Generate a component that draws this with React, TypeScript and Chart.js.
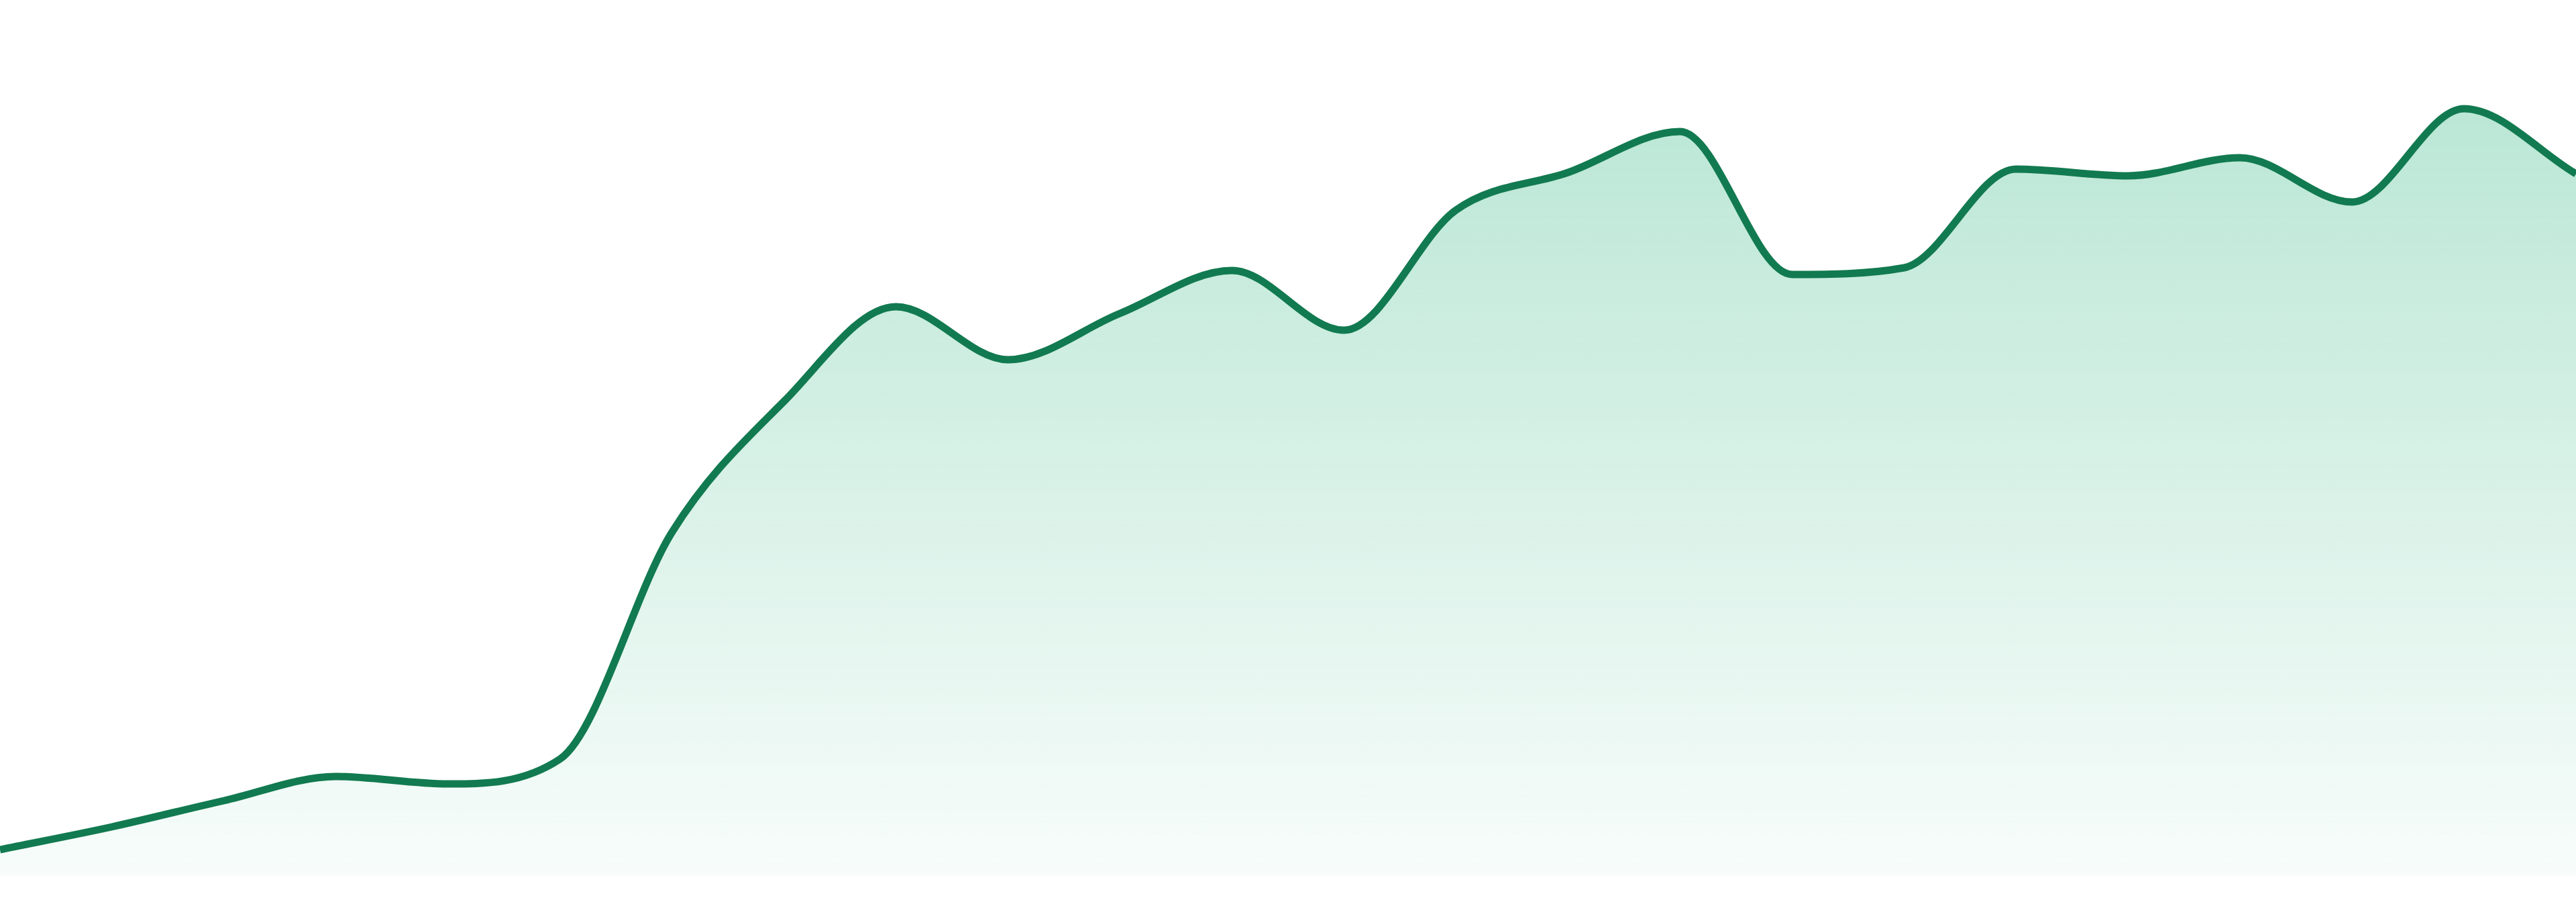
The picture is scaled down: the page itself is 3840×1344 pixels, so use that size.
import React, { useEffect, useRef } from "react";
import { Chart, registerables } from "chart.js";

Chart.register(...registerables);

// 24 periods, no visible axis labels in the reference
const periods = [
  "P1", "P2", "P3", "P4", "P5", "P6", "P7", "P8", "P9", "P10", "P11", "P12",
  "P13", "P14", "P15", "P16", "P17", "P18", "P19", "P20", "P21", "P22", "P23", "P24",
];

const seriesValues = [
  39, 73, 112, 148, 137, 174, 512, 707, 848, 769, 838, 902,
  813, 992, 1048, 1109, 896, 906, 1053, 1043, 1070, 1004, 1143, 1046,
];

const yMin = 0;
const yMax = 1305;

export default function App() {
  const canvasRef = useRef<HTMLCanvasElement | null>(null);
  const chartInstanceRef = useRef<Chart | null>(null);

  useEffect(() => {
    document.body.style.margin = "0";
    if (!canvasRef.current) return;

    if (chartInstanceRef.current) {
      chartInstanceRef.current.destroy();
    }

    const ctx = canvasRef.current.getContext("2d");
    if (!ctx) return;

    chartInstanceRef.current = new Chart(ctx, {
      type: "line",
      data: {
        labels: periods,
        datasets: [
          {
            data: seriesValues,
            borderColor: "#127a50",
            borderWidth: 11,
            fill: "start",
            backgroundColor: (context: any) => {
              const area = context.chart.chartArea;
              if (!area) return "rgba(16, 170, 110, 0.15)";
              const g = context.chart.ctx.createLinearGradient(0, area.top, 0, area.bottom);
              g.addColorStop(0, "rgba(16, 170, 110, 0.32)");
              g.addColorStop(1, "rgba(16, 170, 110, 0.03)");
              return g;
            },
            cubicInterpolationMode: "monotone",
            pointRadius: 0,
            pointHoverRadius: 0,
          },
        ],
      },
      options: {
        responsive: true,
        maintainAspectRatio: false,
        animation: false,
        layout: {
          padding: { top: 0, bottom: 39, left: 0, right: 0 },
        },
        plugins: {
          legend: { display: false },
          tooltip: { enabled: false },
        },
        scales: {
          x: { display: false },
          y: { display: false, min: yMin, max: yMax },
        },
      },
    });

    return () => {
      if (chartInstanceRef.current) {
        chartInstanceRef.current.destroy();
        chartInstanceRef.current = null;
      }
    };
  }, []);

  return (
    <div style={{ position: "relative", width: "3840px", height: "1344px", background: "#ffffff" }}>
      <canvas ref={canvasRef} />
    </div>
  );
}
